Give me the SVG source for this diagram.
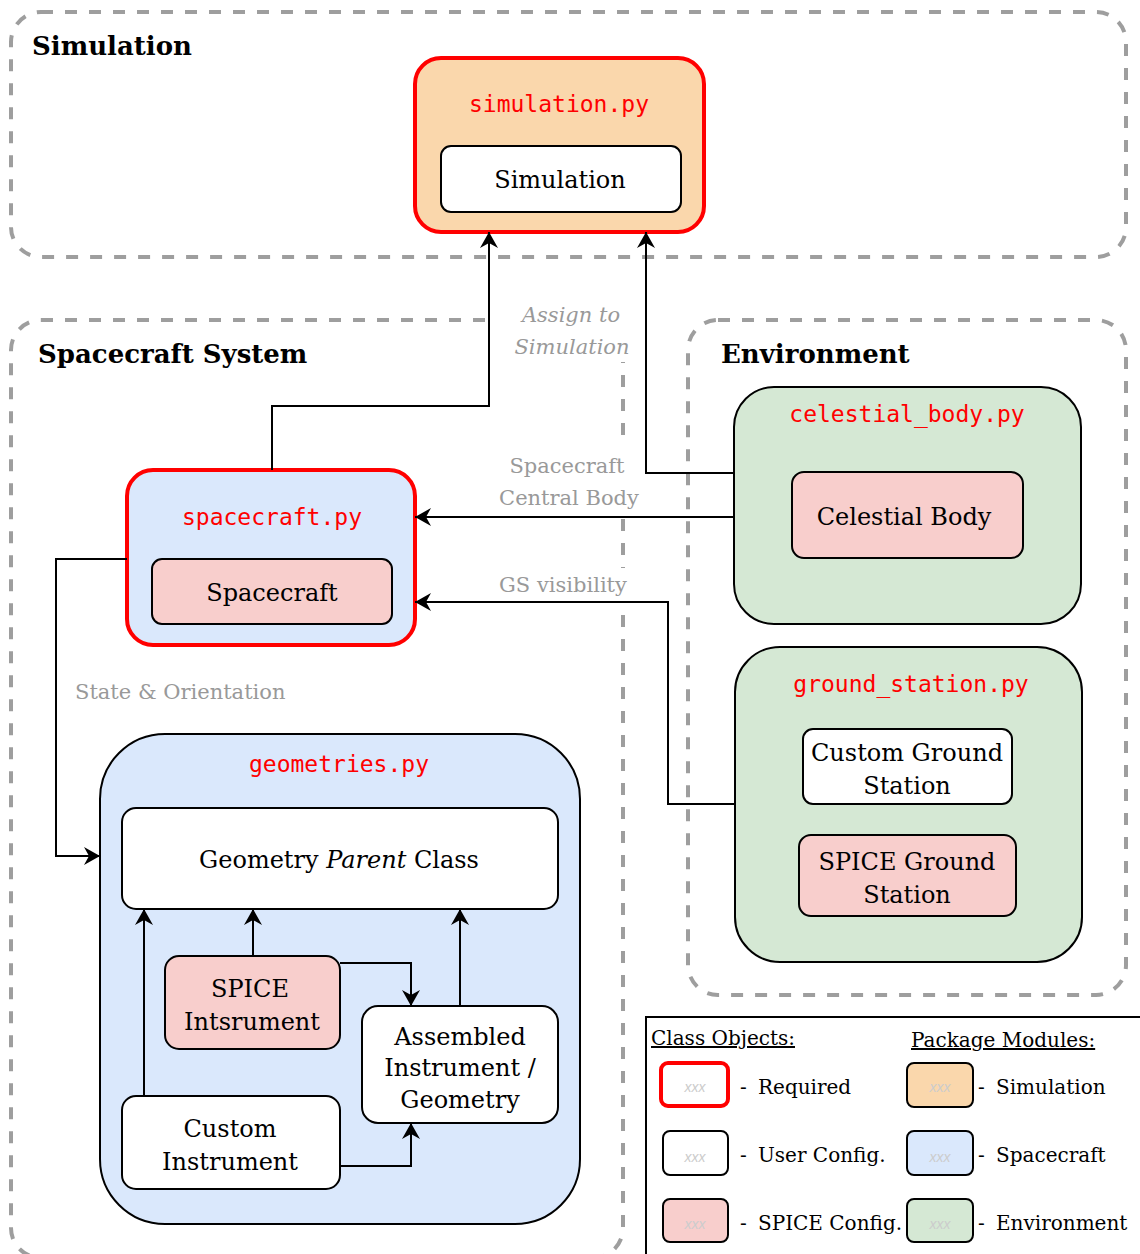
<svg xmlns="http://www.w3.org/2000/svg" width="1140" height="1254" viewBox="0 0 1140 1254">
<style>
.grp{fill:none;stroke:#9e9e9e;stroke-width:4;stroke-dasharray:12 12}
.grpt{font-family:"DejaVu Serif",serif;font-weight:bold;font-size:26px;fill:#000}
.req{stroke:#ff0000;stroke-width:4}
.blk{stroke:#000;stroke-width:2}
.org{fill:#fad7ac}.blu{fill:#dae8fc}.grn{fill:#d5e8d4}.pnk{fill:#f8cecc}.wht{fill:#fff}
.mod{font-family:"DejaVu Sans Mono",monospace;font-size:23px;fill:#ff0000;text-anchor:middle}
.cls{font-family:"DejaVu Serif",serif;font-size:24px;fill:#000;text-anchor:middle}
.lbl{font-family:"DejaVu Serif",serif;font-size:21px;fill:#999999;text-anchor:middle}
.lbls{font-family:"DejaVu Serif",serif;font-size:21px;fill:#999999;text-anchor:start}
.leg{font-family:"DejaVu Serif",serif;font-size:20px;fill:#000}
.xxx{font-family:"Liberation Sans",sans-serif;font-style:italic;font-size:14px;fill:#cccccc;text-anchor:middle}
.edge{fill:none;stroke:#000;stroke-width:2}
</style>
<defs>
<marker id="arr" viewBox="0 0 16 18" refX="16" refY="9" markerWidth="16" markerHeight="18" markerUnits="userSpaceOnUse" orient="auto">
<path d="M0,0 L16,9 L0,18 L5,9 z" fill="#000"/>
</marker>
</defs>
<rect width="1140" height="1254" fill="#fff"/>

<g id="grp-simulation">
<rect class="grp" x="11" y="12" width="1115" height="245" rx="30"/>
<text class="grpt" x="32" y="55">Simulation</text>
</g>
<g id="grp-spacecraft-system">
<rect class="grp" x="11" y="320" width="612" height="938" rx="30"/>
<text class="grpt" x="38" y="363">Spacecraft System</text>
</g>
<g id="grp-environment">
<rect class="grp" x="688" y="320" width="438" height="675" rx="30"/>
<text class="grpt" x="721" y="363">Environment</text>
</g>

<g id="simulation-py">
<rect class="org req" x="415" y="58" width="289" height="174" rx="26"/>
<text class="mod" x="559" y="112">simulation.py</text>
</g>
<g id="simulation-class">
<rect class="wht blk" x="441" y="146" width="240" height="66" rx="10"/>
<text class="cls" x="560" y="188">Simulation</text>
</g>

<g id="spacecraft-py">
<rect class="blu req" x="127" y="470" width="288" height="175" rx="26"/>
<text class="mod" x="272" y="525">spacecraft.py</text>
</g>
<g id="spacecraft-class">
<rect class="pnk blk" x="152" y="559" width="240" height="65" rx="10"/>
<text class="cls" x="272" y="601">Spacecraft</text>
</g>

<g id="celestial-body-py">
<rect class="grn blk" x="734" y="387" width="347" height="237" rx="40"/>
<text class="mod" x="907" y="422">celestial_body.py</text>
</g>
<g id="celestial-body-class">
<rect class="pnk blk" x="792" y="472" width="231" height="86" rx="12"/>
<text class="cls" x="904" y="525">Celestial Body</text>
</g>

<g id="ground-station-py">
<rect class="grn blk" x="735" y="647" width="347" height="315" rx="45"/>
<text class="mod" x="911" y="692">ground_station.py</text>
</g>
<g id="custom-ground-station">
<rect class="wht blk" x="803" y="729" width="209" height="75" rx="10"/>
<text class="cls" x="907" y="761">Custom Ground</text>
<text class="cls" x="907" y="794">Station</text>
</g>
<g id="spice-ground-station">
<rect class="pnk blk" x="799" y="835" width="217" height="81" rx="12"/>
<text class="cls" x="907" y="870">SPICE Ground</text>
<text class="cls" x="907" y="903">Station</text>
</g>

<g id="geometries-py">
<rect class="blu blk" x="100" y="734" width="480" height="490" rx="65"/>
<text class="mod" x="339" y="772">geometries.py</text>
</g>
<g id="geometry-parent">
<rect class="wht blk" x="122" y="808" width="436" height="101" rx="14"/>
<text class="cls" x="339" y="868">Geometry <tspan font-style="italic">Parent</tspan> Class</text>
</g>
<g id="spice-instrument">
<rect class="pnk blk" x="165" y="956" width="175" height="93" rx="14"/>
<text class="cls" x="250" y="997">SPICE</text>
<text class="cls" x="252" y="1030">Intsrument</text>
</g>
<g id="assembled-instrument">
<rect class="wht blk" x="362" y="1006" width="196" height="117" rx="16"/>
<text class="cls" x="460" y="1045">Assembled</text>
<text class="cls" x="460" y="1076">Instrument /</text>
<text class="cls" x="460" y="1108">Geometry</text>
</g>
<g id="custom-instrument">
<rect class="wht blk" x="122" y="1096" width="218" height="93" rx="14"/>
<text class="cls" x="230" y="1137">Custom</text>
<text class="cls" x="230" y="1170">Instrument</text>
</g>

<g id="connectors">
<path class="edge" d="M272,470 V406 H489 V232" marker-end="url(#arr)"/>
<path class="edge" d="M734,473 H646 V232" marker-end="url(#arr)"/>
<path class="edge" d="M734,517 H415" marker-end="url(#arr)"/>
<path class="edge" d="M735,804 H668 V602 H415" marker-end="url(#arr)"/>
<path class="edge" d="M127,559 H56 V856 H100" marker-end="url(#arr)"/>
<path class="edge" d="M144,1096 V909" marker-end="url(#arr)"/>
<path class="edge" d="M253,956 V909" marker-end="url(#arr)"/>
<path class="edge" d="M340,963 H411 V1006" marker-end="url(#arr)"/>
<path class="edge" d="M460,1006 V909" marker-end="url(#arr)"/>
<path class="edge" d="M340,1166 H411 V1123" marker-end="url(#arr)"/>
<rect x="497" y="298" width="143" height="64" fill="#fff"/>
<text class="lbl" x="571" y="322" font-style="italic">Assign to</text>
<text class="lbl" x="572" y="354" font-style="italic">Simulation</text>
<rect x="497" y="447" width="145" height="68" fill="#fff"/>
<text class="lbl" x="567" y="473">Spacecraft</text>
<text class="lbl" x="569" y="505">Central Body</text>
<rect x="493" y="568" width="140" height="33" fill="#fff"/>
<text class="lbl" x="563" y="592">GS visibility</text>
<text class="lbls" x="75" y="699">State &amp; Orientation</text>
</g>

<g id="legend">
<rect x="646" y="1017" width="500" height="250" fill="#fff" stroke="#000" stroke-width="2"/>
<text class="leg" x="651" y="1045" text-decoration="underline">Class Objects:</text>
<text class="leg" x="911" y="1047" text-decoration="underline">Package Modules:</text>
<rect class="wht req" x="661" y="1063" width="67" height="43" rx="7"/>
<text class="xxx" x="695" y="1092">xxx</text>
<text class="leg" x="740" y="1094">-</text><text class="leg" x="758" y="1094">Required</text>
<rect class="wht blk" x="663" y="1131" width="65" height="44" rx="7"/>
<text class="xxx" x="695" y="1162">xxx</text>
<text class="leg" x="740" y="1162">-</text><text class="leg" x="758" y="1162">User Config.</text>
<rect class="pnk blk" x="663" y="1199" width="65" height="43" rx="7"/>
<text class="xxx" x="695" y="1229">xxx</text>
<text class="leg" x="740" y="1230">-</text><text class="leg" x="758" y="1230">SPICE Config.</text>
<rect class="org blk" x="907" y="1063" width="66" height="44" rx="7"/>
<text class="xxx" x="940" y="1092">xxx</text>
<text class="leg" x="978" y="1094">-</text><text class="leg" x="996" y="1094">Simulation</text>
<rect class="blu blk" x="907" y="1131" width="66" height="44" rx="7"/>
<text class="xxx" x="940" y="1162">xxx</text>
<text class="leg" x="978" y="1162">-</text><text class="leg" x="996" y="1162">Spacecraft</text>
<rect class="grn blk" x="907" y="1199" width="66" height="43" rx="7"/>
<text class="xxx" x="940" y="1229">xxx</text>
<text class="leg" x="978" y="1230">-</text><text class="leg" x="996" y="1230">Environment</text>
</g>
</svg>
